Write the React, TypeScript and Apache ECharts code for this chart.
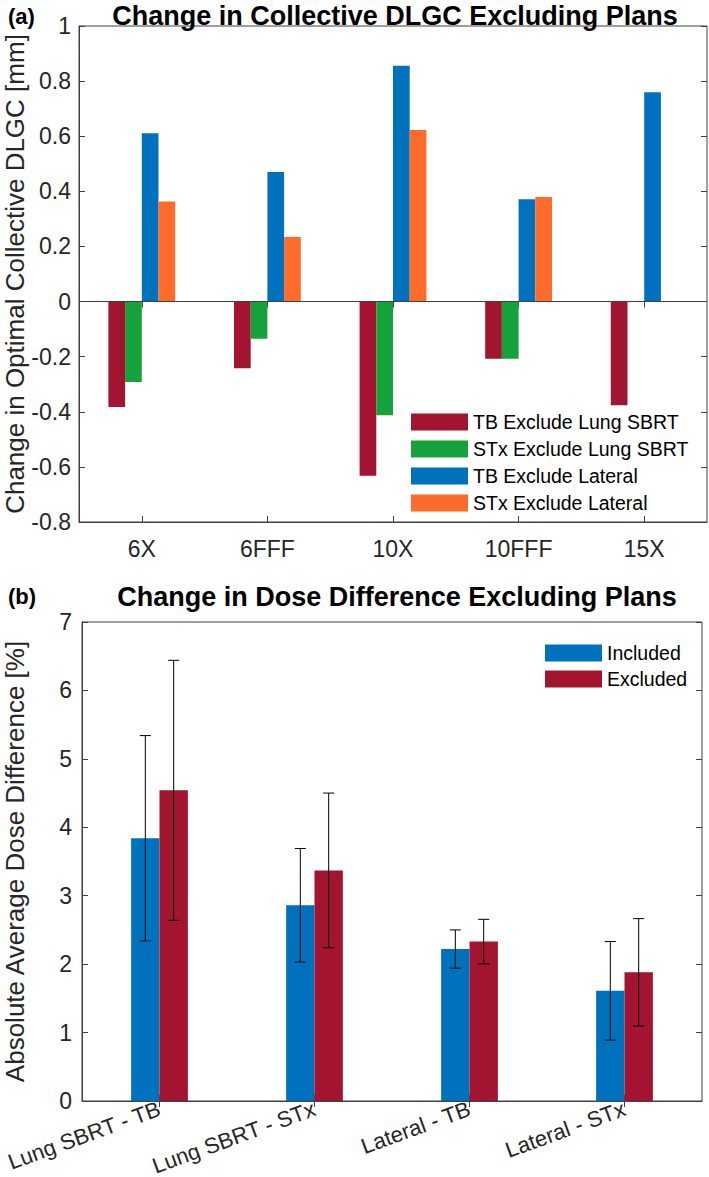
import React, { useEffect, useRef } from "react";
import * as echarts from "echarts";

// ---- Panel (a) data ----
const energies = ["6X", "6FFF", "10X", "10FFF", "15X"];
const tbExcludeLung = [-0.383, -0.242, -0.632, -0.208, -0.376];
const stxExcludeLung = [-0.292, -0.135, -0.413, -0.208, 0];
const tbExcludeLateral = [0.611, 0.47, 0.856, 0.371, 0.76];
const stxExcludeLateral = [0.363, 0.234, 0.623, 0.379, 0];

// ---- Panel (b) data ----
const groups = ["Lung SBRT - TB", "Lung SBRT - STx", "Lateral - TB", "Lateral - STx"];
const included = [3.84, 2.86, 2.22, 1.61];
const includedErr = [1.5, 0.83, 0.28, 0.72];
const excluded = [4.54, 3.37, 2.33, 1.88];
const excludedErr = [1.9, 1.13, 0.325, 0.785];

const RED = "#A2142F";
const GREEN = "#16A23A";
const BLUE = "#0072BD";
const ORANGE = "#FF6B2B";
const AX = "#404040";
const TXT = "#262626";
const FONT = "'Liberation Sans', Arial, Helvetica, sans-serif";

const BAR_B = 0.183;

function errSeries(name: string, vals: number[], errs: number[], sign: number) {
  return {
    name,
    type: "custom",
    xAxisIndex: 2,
    yAxisIndex: 2,
    z: 5,
    silent: true,
    data: vals.map((v, i) => [i, v, errs[i]]),
    renderItem: (params: any, api: any) => {
      const xi = api.value(0);
      const v = api.value(1);
      const e = api.value(2);
      const band = api.size([1, 0])[0];
      const off = (sign * BAR_B * band) / 2;
      const top = api.coord([xi, v + e]);
      const bot = api.coord([xi, v - e]);
      const x = top[0] + off;
      const c = 5.5;
      const st = { stroke: "#000", lineWidth: 1 };
      return {
        type: "group",
        children: [
          { type: "line", shape: { x1: x, y1: top[1], x2: x, y2: bot[1] }, style: st },
          { type: "line", shape: { x1: x - c, y1: top[1], x2: x + c, y2: top[1] }, style: st },
          { type: "line", shape: { x1: x - c, y1: bot[1], x2: x + c, y2: bot[1] }, style: st },
        ],
      };
    },
  };
}

export default function App() {
  const ref = useRef<HTMLDivElement>(null);
  useEffect(() => {
    document.body.style.margin = "0";
    const chart = echarts.init(ref.current!, undefined, { renderer: "svg" });
    const lineStyle = { color: AX, width: 1 };
    const tick = { show: true, inside: true, length: 6, lineStyle };
    const fmt = (v: number) => String(Math.round(v * 10) / 10);
    const option: any = {
      animation: false,
      textStyle: { fontFamily: FONT },
      grid: [
        { left: 79, top: 26, width: 628, height: 496, show: true, borderColor: AX, borderWidth: 1, containLabel: false, outerBoundsMode: "none" },
        { left: 82, top: 622, width: 620, height: 479, show: true, borderColor: AX, borderWidth: 1, containLabel: false, outerBoundsMode: "none" },
      ],
      xAxis: [
        {
          type: "category", gridIndex: 0, data: energies,
          axisLine: { show: true, onZero: false, lineStyle },
          axisTick: { ...tick, alignWithLabel: true },
          axisLabel: { fontSize: 23, color: TXT, margin: 15, fontFamily: FONT },
        },
        {
          type: "category", gridIndex: 0, position: "top", data: energies,
          axisLine: { show: false }, axisTick: { ...tick, alignWithLabel: true }, axisLabel: { show: false },
        },
        {
          type: "category", gridIndex: 1, data: groups,
          axisLine: { show: true, onZero: false, lineStyle },
          axisTick: { ...tick, alignWithLabel: true },
          axisLabel: { fontSize: 22, color: TXT, margin: 7, rotate: 20, fontFamily: FONT },
        },
        {
          type: "category", gridIndex: 1, position: "top", data: groups,
          axisLine: { show: false }, axisTick: { ...tick, alignWithLabel: true }, axisLabel: { show: false },
        },
      ],
      yAxis: [
        {
          type: "value", gridIndex: 0, min: -0.8, max: 1, interval: 0.2,
          name: "Change in Optimal Collective DLGC [mm]", nameLocation: "middle", nameGap: 51,
          nameMoveOverlap: false,
          nameTextStyle: { fontSize: 26, color: TXT, fontFamily: FONT },
          axisLine: { show: true, lineStyle }, axisTick: tick, splitLine: { show: false },
          axisLabel: { fontSize: 23, color: TXT, margin: 8, formatter: fmt, fontFamily: FONT },
        },
        {
          type: "value", gridIndex: 0, position: "right", min: -0.8, max: 1, interval: 0.2,
          axisLine: { show: false }, axisTick: tick, splitLine: { show: false }, axisLabel: { show: false },
        },
        {
          type: "value", gridIndex: 1, min: 0, max: 7, interval: 1,
          name: "Absolute Average Dose Difference [%]", nameLocation: "middle", nameGap: 54,
          nameMoveOverlap: false,
          nameTextStyle: { fontSize: 26, color: TXT, fontFamily: FONT },
          axisLine: { show: true, lineStyle }, axisTick: tick, splitLine: { show: false },
          axisLabel: { fontSize: 23, color: TXT, margin: 10, fontFamily: FONT },
        },
        {
          type: "value", gridIndex: 1, position: "right", min: 0, max: 7, interval: 1,
          axisLine: { show: false }, axisTick: tick, splitLine: { show: false }, axisLabel: { show: false },
        },
      ],
      legend: [
        {
          data: ["TB Exclude Lung SBRT", "STx Exclude Lung SBRT", "TB Exclude Lateral", "STx Exclude Lateral"],
          orient: "vertical", left: 411, top: 412, padding: 0, itemWidth: 57, itemHeight: 17, itemGap: 7,
          icon: "rect", textStyle: { fontSize: 19.5, color: "#000", fontFamily: FONT }, selectedMode: false,
        },
        {
          data: ["Included", "Excluded"],
          orient: "vertical", left: 545, top: 643, padding: 0, itemWidth: 57, itemHeight: 17, itemGap: 6,
          icon: "rect", textStyle: { fontSize: 19.5, color: "#000", fontFamily: FONT }, selectedMode: false,
        },
      ],
      graphic: [
        { type: "text", left: 8, top: 5, style: { text: "(a)", font: `bold 22px ${FONT}`, fill: "#000" } },
        { type: "text", left: 8, top: 585, style: { text: "(b)", font: `bold 22px ${FONT}`, fill: "#000" } },
        { type: "text", x: 395, y: 16, style: { text: "Change in Collective DLGC Excluding Plans", font: `bold 27px ${FONT}`, fill: "#000", textAlign: "center", textVerticalAlign: "middle" } },
        { type: "text", x: 397, y: 597, style: { text: "Change in Dose Difference Excluding Plans", font: `bold 27px ${FONT}`, fill: "#000", textAlign: "center", textVerticalAlign: "middle" } },
      ],
      series: [
        {
          name: "TB Exclude Lung SBRT", type: "bar", xAxisIndex: 0, yAxisIndex: 0, data: tbExcludeLung,
          itemStyle: { color: RED }, barWidth: "13.3%", barGap: "0%",
          markLine: {
            silent: true, symbol: ["none", "none"], label: { show: false },
            lineStyle: { color: AX, type: "solid", width: 1 }, data: [{ yAxis: 0 }],
          },
        },
        { name: "STx Exclude Lung SBRT", type: "bar", xAxisIndex: 0, yAxisIndex: 0, data: stxExcludeLung, itemStyle: { color: GREEN }, barWidth: "13.3%", barGap: "0%" },
        { name: "TB Exclude Lateral", type: "bar", xAxisIndex: 0, yAxisIndex: 0, data: tbExcludeLateral, itemStyle: { color: BLUE }, barWidth: "13.3%", barGap: "0%" },
        { name: "STx Exclude Lateral", type: "bar", xAxisIndex: 0, yAxisIndex: 0, data: stxExcludeLateral, itemStyle: { color: ORANGE }, barWidth: "13.3%", barGap: "0%" },
        { name: "Included", type: "bar", xAxisIndex: 2, yAxisIndex: 2, data: included, itemStyle: { color: BLUE }, barWidth: `${BAR_B * 100}%`, barGap: "0%" },
        { name: "Excluded", type: "bar", xAxisIndex: 2, yAxisIndex: 2, data: excluded, itemStyle: { color: RED }, barWidth: `${BAR_B * 100}%`, barGap: "0%" },
        errSeries("Included err", included, includedErr, -1),
        errSeries("Excluded err", excluded, excludedErr, 1),
      ],
    };
    chart.setOption(option);
    return () => chart.dispose();
  }, []);
  return <div ref={ref} style={{ width: 709, height: 1177 }} />;
}
